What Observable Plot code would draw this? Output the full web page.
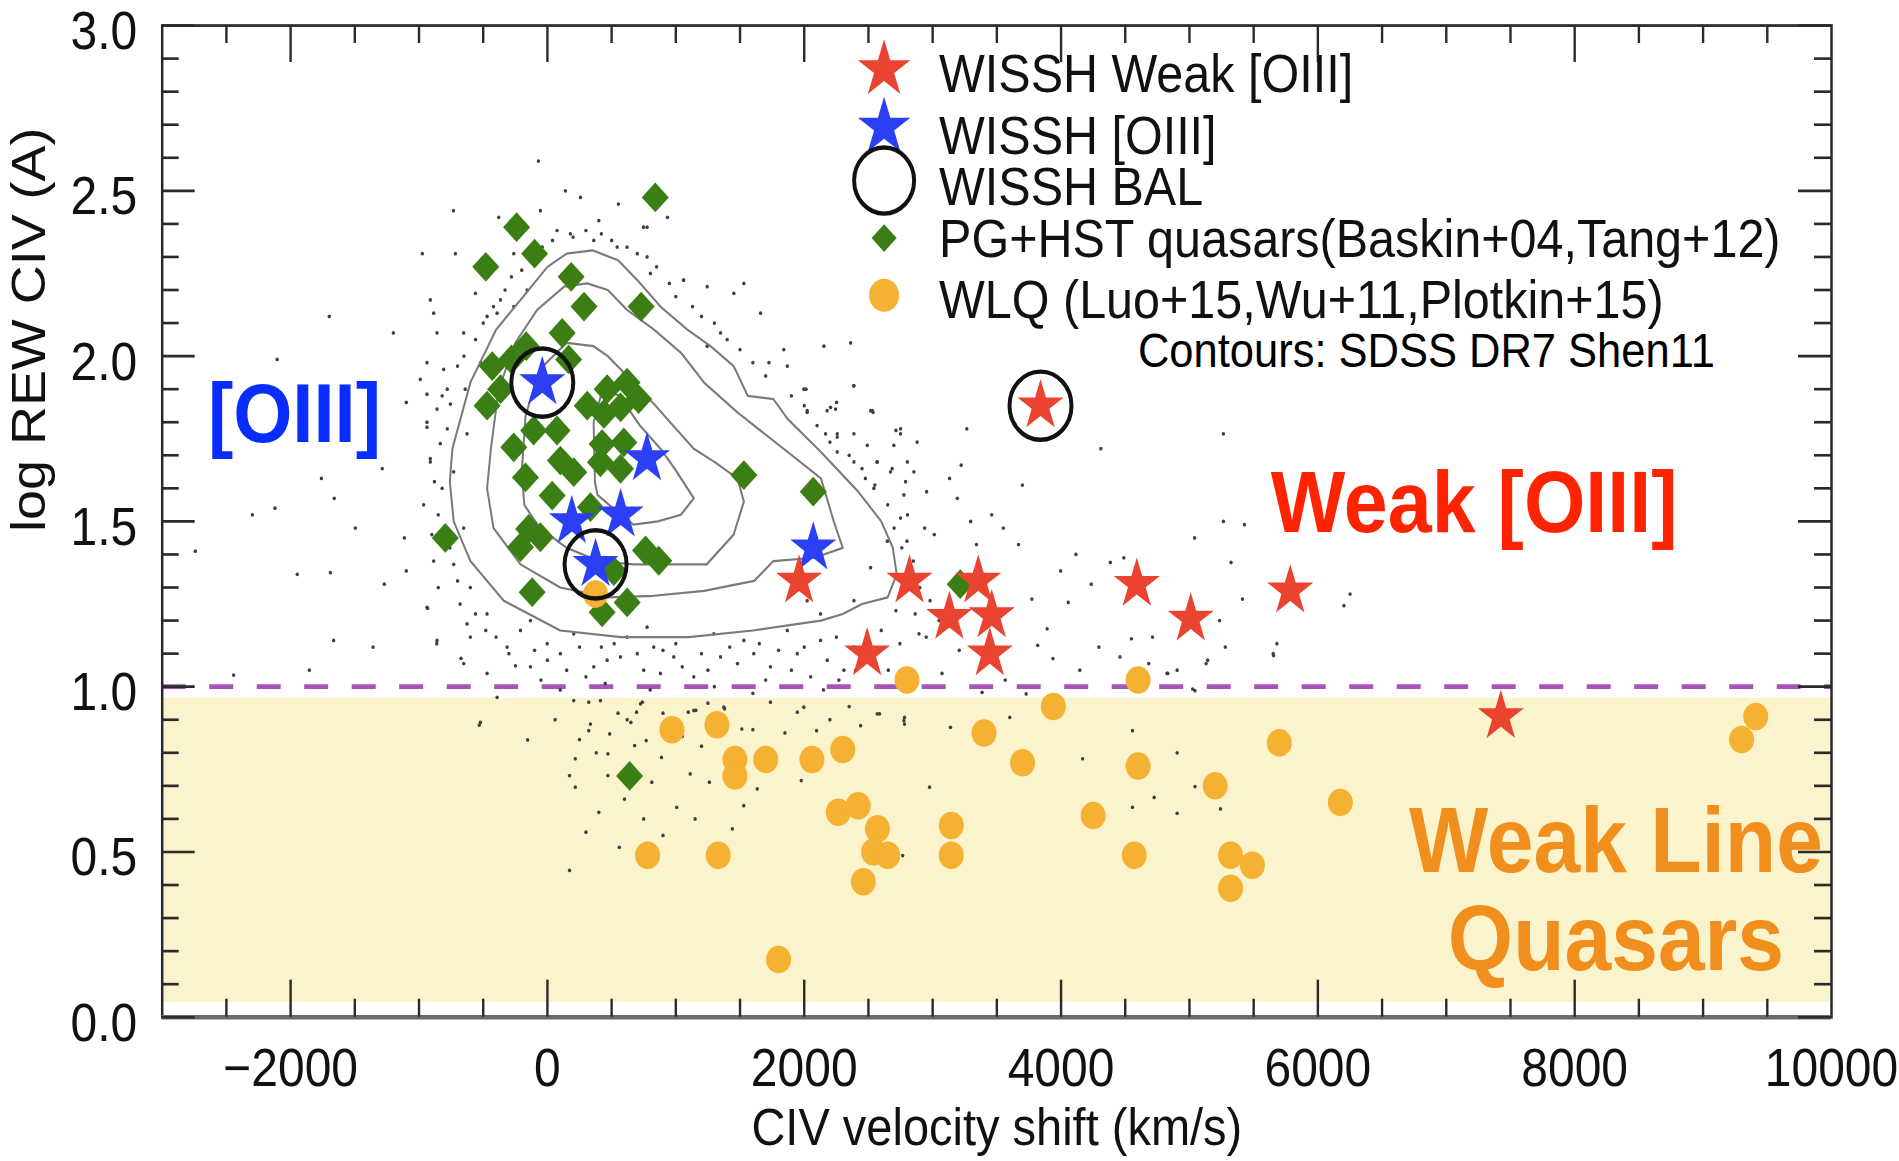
<!DOCTYPE html>
<html><head><meta charset="utf-8">
<script src="https://cdn.jsdelivr.net/npm/d3@7"></script>
<script src="https://cdn.jsdelivr.net/npm/@observablehq/plot@0.6"></script>
<style>
html,body{margin:0;padding:0;background:#fff;overflow:hidden;}
#chart{width:1899px;height:1161px;}
</style></head><body><div id="chart"></div>
<script>
// ---------------- DATA ----------------
// WISSH quasars with weak [OIII]  [CIV shift km/s, log REW CIV]
const wisshWeak = [[1960,1.32],[2490,1.10],[2820,1.32],[3355,1.32],[3130,1.21],[3460,1.215],[3445,1.10],[3840,1.85],[4590,1.31],[5010,1.205],[5785,1.29],[7425,0.91]];
// WISSH quasars with [OIII]
const wisshOIII = [[-40,1.92],[775,1.69],[190,1.50],[570,1.52],[375,1.37],[2070,1.42]];
// WISSH BAL quasars
const wisshBAL = [[-40,1.92],[375,1.37],[3840,1.85]];
// PG + HST quasars (Baskin+04, Tang+12)
const pgHst = [[840,2.48],[-240,2.39],[-100,2.31],[-480,2.27],[185,2.24],[285,2.15],[730,2.15],[115,2.07],[-165,2.03],[-280,1.99],[-430,1.97],[165,1.99],[-470,1.85],[-365,1.90],[310,1.85],[465,1.90],[620,1.92],[710,1.87],[570,1.845],[440,1.825],[1530,1.64],[-107,1.775],[75,1.775],[-262,1.724],[426,1.734],[595,1.739],[101,1.684],[205,1.649],[413,1.679],[569,1.659],[-171,1.633],[37,1.578],[335,1.543],[2070,1.59],[-795,1.45],[-146,1.477],[-55,1.452],[-210,1.422],[764,1.412],[867,1.381],[-119,1.286],[426,1.225],[621,1.255],[517,1.35],[3215,1.31],[640,0.73]];
// Weak line quasars (Luo+15, Wu+11, Plotkin+15)
const wlq = [[375,1.28],[2800,1.02],[970,0.87],[1320,0.885],[1460,0.78],[1460,0.73],[1700,0.78],[2060,0.78],[2300,0.81],[3400,0.86],[3940,0.94],[3700,0.77],[4600,0.76],[4600,1.02],[2265,0.62],[2420,0.64],[2570,0.57],[2540,0.50],[2650,0.49],[2460,0.41],[3145,0.58],[3145,0.49],[780,0.49],[1330,0.49],[1800,0.175],[4250,0.61],[4570,0.49],[5700,0.83],[5200,0.70],[6175,0.65],[5320,0.49],[5490,0.46],[5320,0.39],[9410,0.91],[9300,0.84]];
// SDSS DR7 (Shen+11) individual quasars outside the contours
const sdssDots = [
[-2105,1.99],[-1699,2.12],[-2298,1.52],[-2122,1.54],[-2742,1.41],[-1948,1.34],[-1690,1.345],[-1760,1.63],[-1660,1.57],[-1496,1.48],[-1286,1.66],[-1200,2.07],[-1099,1.86],[-990,1.93],[-732,2.44],[-974,2.31],[-717,2.31],[-70,2.59],[140,2.50],[257,2.48],[-55,2.44],[553,2.46],[748,2.39],[935,2.42],[1060,2.23],[-1114,1.45],[-1099,1.35],[-1270,1.31],
[-379,2.42],[400,2.41],[-262,2.31],[75,2.38],[179,2.37],[776,2.39],[543,2.33],[361,2.35],[776,2.30],[802,2.25],[1062,2.23],[1244,2.21],[1530,2.22],[1452,2.19],[1660,2.13],[-912,2.17],[-886,2.13],[-561,2.19],[-366,2.17],[-392,2.13],[-860,2.07],[-652,2.07],[1244,2.03],[1348,2.07],[1841,2.02],[2153,2.03],[2361,2.04],[2387,1.91],[1997,1.90],[1868,1.97],[1725,1.98],[2023,1.83],[2244,1.84],[2530,1.835],[2166,1.765],[2257,1.765],[2387,1.765],[2257,1.71],[2491,1.73],[2698,1.73],[2750,1.78],[2854,1.65],[2672,1.65],[2569,1.68],[-938,1.98],[-808,1.96],[-938,1.885],[-756,1.855],[-938,1.785],[-834,1.735],[-912,1.69],[-730,1.65],[-626,1.765],[-470,2.12],[-158,2.20],[-262,2.15],
[-938,1.80],[-912,1.68],[-964,1.55],[-886,1.38],[-730,1.37],[-652,1.48],[-600,1.30],[-470,1.22],[-600,1.15],[-860,1.14],[-938,1.24],[-314,1.12],[-132,1.06],[-652,1.07],[-470,1.04],[-210,1.17],[-132,1.20],[-2,1.13],[205,1.16],[101,1.10],[361,1.06],[465,1.08],[569,1.09],[621,1.15],[776,1.18],[828,1.12],[984,1.09],[1140,1.03],[880,1.04],[1296,1.16],[1348,1.09],[1530,1.14],[1607,1.10],[1737,1.06],[1868,1.17],[1946,1.10],[2127,1.14],[2179,1.08],[2309,1.05],[2387,1.12],[2127,1.22],[2023,1.26],[2387,1.26],[2517,1.36],[2647,1.44],[2750,1.51],[2542,1.60],[2387,1.68],[2257,1.755],[2750,1.765],[2803,1.68],[2776,1.58],[2517,1.835],[2023,1.835],[2205,1.845],
[205,0.958],[413,0.958],[621,0.90],[335,0.887],[725,0.948],[1140,0.928],[1374,0.938],[1997,0.938],[2569,0.918],[2776,0.897],[-522,0.892],[-392,0.968],
[322,0.953],[739,0.953],[322,0.867],[485,0.857],[650,0.892],[694,0.923],[679,0.822],[769,0.837],[888,0.786],[471,0.797],[217,0.782],[217,0.696],[172,0.731],[471,0.731],[813,0.711],[1007,0.635],[1112,0.736],[1261,0.711],[1440,0.570],[1529,0.64],[1634,0.691],[1977,0.716],[560,0.514],[172,0.444],[1097,0.923],[1156,0.928],[1380,0.933],[1514,0.872],[1737,0.953],[1946,0.923],[2096,0.867],[2439,0.882],[2587,0.918],[2781,0.907],[2781,0.887],[3139,0.877],[3601,0.907],[4168,0.782],[4556,0.867],[4556,0.635],[2976,0.696],[2767,0.489],
[2014,1.90],[2386,1.91],[2178,1.835],[2536,1.83],[2252,1.86],[3266,1.78],[4310,1.72],[5264,1.765],[3699,1.61],[2879,1.74],[2714,1.775],[2566,1.68],[2685,1.66],[2476,1.63],[2789,1.62],[2953,1.59],[3132,1.63],[3222,1.67],[3192,1.57],[3296,1.50],[3460,1.52],[3550,1.48],[2938,1.48],[2804,1.52],[2760,1.42],[3013,1.46],[3341,1.43],[3669,1.43],[4116,1.40],[4384,1.376],[4489,1.39],[3997,1.35],[4235,1.31],[3773,1.265],[4056,1.255],[5040,1.45],[5264,1.50],[5428,1.49],[5324,1.376],[5413,1.265],[6203,1.245],[5652,1.10],[5681,1.13],[5279,1.12],[5130,1.07],[5234,1.20],[4831,1.04],[4683,1.07],[4459,1.09],[4548,1.145],[4712,1.15],[4295,1.12],[4146,1.05],[3937,1.085],[3818,1.125],[3892,1.175],[3565,1.02],[3728,0.978],[3385,0.983],[3207,1.11],[3073,1.04],[2894,1.16],[2864,1.22],[2714,1.23],[2745,1.13],[2655,1.05],[5025,0.993],
[4904,0.80],[5043,0.698],[4725,0.665],[4904,0.617],[5241,0.63],[4825,1.04],[4904,1.05],[5043,0.988],[5142,1.08],[6251,1.28],[5655,1.094],
[-531,0.884],[-154,0.839],[-673,1.086],[-249,1.063],[-862,1.13],[-1665,1.14],[-1358,1.12],[-1854,1.05],[-2444,1.035],[-933,1.237],[-626,1.19],
[-820,1.60],[-850,1.52],[-800,1.45],[-780,1.78],[-820,1.88],[-700,1.97],[-650,2.00],[-560,2.05],[-500,2.10],[-420,2.15],[-330,2.20],[-280,2.24],[-200,2.26],[-120,2.30],[-40,2.33],[40,2.35],[-880,1.62],[-760,1.42],[-700,1.32],[-680,1.25],[-560,1.22],[-480,1.17],[-400,1.15],[-300,1.10],[-780,1.90],[-860,1.84],[-640,1.90],[-520,1.98],[-900,1.46],[-850,1.30],
[200,2.36],[300,2.38],[420,2.37],[500,2.35],[620,2.33],[700,2.31],[850,2.27],[950,2.22],[1000,2.18],[1130,2.15],[1200,2.12],[1300,2.10],[1400,2.05],[1500,2.02],[1600,1.98],[1700,1.94],[1900,1.88],[2000,1.85],[2100,1.79],[2200,1.74],[2350,1.70],[2450,1.66],[2550,1.61],[2650,1.55],[2700,1.48],[2800,1.44],[2850,1.38],[2900,1.30],[2980,1.26],[3050,1.20],[2950,1.15],[2600,1.17],[2500,1.12],
[-100,1.11],[0,1.08],[150,1.05],[250,1.12],[300,1.03],[420,1.12],[520,1.13],[700,1.10],[750,1.05],[900,1.11],[1000,1.13],[1050,1.06],[1200,1.10],[1250,1.05],[1420,1.12],[1480,1.07],[1650,1.13],[1700,1.02],[1800,1.11],[1900,1.05],[2000,1.12],[2050,1.03],[2250,1.15],[2270,1.02],[2400,1.05],[-50,1.02],[100,0.99],[450,1.01],[800,0.99],[1300,1.00],[1600,0.98],[2150,0.99],
[60,0.90],[250,0.84],[380,0.80],[550,0.92],[600,0.66],[750,0.60],[900,0.92],[1050,0.85],[1200,0.82],[1250,0.95],[1600,0.87],[1850,0.86],[2200,0.90],[2350,0.94],[900,0.55],[1150,0.60],[400,0.62],[300,0.56]
];
// SDSS DR7 density contours (outer to inner)
const contour1 = [[-740,1.72],[-600,1.92],[-400,2.08],[-210,2.17],[0,2.27],[150,2.31],[350,2.32],[550,2.29],[700,2.23],[880,2.15],[1090,2.08],[1270,2.03],[1450,1.97],[1560,1.88],[1760,1.87],[1870,1.81],[2130,1.71],[2420,1.59],[2600,1.50],[2690,1.42],[2720,1.34],[2650,1.27],[2450,1.25],[2300,1.22],[2130,1.20],[1600,1.17],[1100,1.15],[570,1.15],[100,1.17],[-340,1.26],[-600,1.38],[-730,1.50],[-760,1.62]];
const contour2 = [[-440,1.72],[-380,1.90],[-250,2.04],[-80,2.14],[130,2.21],[310,2.22],[470,2.20],[620,2.14],[830,2.08],[1040,2.01],[1220,1.92],[1480,1.83],[1870,1.71],[2130,1.63],[2230,1.50],[2300,1.42],[2080,1.39],[1760,1.38],[1610,1.32],[1220,1.29],[830,1.275],[470,1.27],[100,1.30],[-210,1.37],[-420,1.48],[-470,1.60]];
const contour3 = [[-200,1.65],[-170,1.82],[-60,1.96],[150,2.04],[360,2.03],[470,2.00],[670,1.92],[830,1.855],[990,1.785],[1140,1.72],[1300,1.68],[1480,1.63],[1530,1.56],[1450,1.46],[1240,1.37],[900,1.37],[670,1.37],[400,1.38],[150,1.42],[-60,1.48],[-180,1.55]];
const contour4 = [[370,1.62],[360,1.80],[430,1.90],[560,1.88],[720,1.79],[880,1.72],[990,1.66],[1140,1.57],[1040,1.52],[860,1.50],[670,1.49],[540,1.53],[390,1.58]];
// Weak-line-quasar region (log REW CIV < 1)
const wlqBand = [{x1: -3000, x2: 10000, y1: 0.045, y2: 0.965}];
const rewThreshold = [1.0];
// Axis ticks
const xTickValues = [-2000, 0, 2000, 4000, 6000, 8000, 10000];
const xTickLabels = ["\u22122000", "0", "2000", "4000", "6000", "8000", "10000"];
const yTickValues = [0, 0.5, 1.0, 1.5, 2.0, 2.5, 3.0];
const yTickLabels = ["0.0", "0.5", "1.0", "1.5", "2.0", "2.5", "3.0"];
const legendLabels = ["WISSH Weak [OIII]", "WISSH [OIII]", "WISSH BAL", "PG+HST quasars(Baskin+04,Tang+12)", "WLQ (Luo+15,Wu+11,Plotkin+15)"];

// ---------------- LAYOUT ----------------
const W = 1899, FINAL_H = 1161, H = 1055;
const S = FINAL_H / H;             // vertical stretch of the original figure
const X0 = -3000, X1 = 10000, Y0 = 0, Y1 = 3;
const xPerPx = (X1 - X0) / (1831 - 161.7);
const yPerPx = (Y1 - Y0) / (1016.7 - 25);
const xMinor = d3.range(-2500, 10000, 500).filter(v => v % 2000 !== 0);
const yMinor = d3.range(1, 30).map(i => i / 10).filter(v => Math.abs(v * 2 - Math.round(v * 2)) > 1e-6);
const yMajorIn = 33 * xPerPx, yMinorIn = 17 * xPerPx;
const xMajorIn = 37 * yPerPx, xMinorIn = 18 * yPerPx;

const diamond = {draw(ctx, size) { const r = Math.sqrt(size) * 0.62625; ctx.moveTo(0, -r); ctx.lineTo(r, 0); ctx.lineTo(0, r); ctx.lineTo(-r, 0); ctx.closePath(); }};

const contourRows = [contour1, contour2, contour3, contour4].flatMap((c, k) => c.map(p => ({v: p[0], y: p[1], level: k})));
const px = d => d[0], py = d => d[1];

const legendSymX = 2622, legendTextX = 3050;
const legendRowY = [2.850, 2.664, 2.508, 2.352, 2.167];
const tickStyle = {stroke: "#2a2a2a", strokeWidth: 2.4};

const chart = Plot.plot({
  width: W, height: H,
  marginTop: 25 / S, marginBottom: (FINAL_H - 1016.7) / S, marginLeft: 161.7, marginRight: W - 1831,
  x: {domain: [X0, X1], axis: null},
  y: {domain: [Y0, Y1], axis: null},
  style: {fontFamily: "'Liberation Sans', Arial, Helvetica, sans-serif", background: "#fff", color: "#111"},
  marks: [
    Plot.rect(wlqBand, {x1: "x1", x2: "x2", y1: "y1", y2: "y2", fill: "#fbf3cc"}),
    Plot.ruleY(rewThreshold, {stroke: "#a853b8", strokeWidth: 4.2, strokeDasharray: "24,23.5"}),
    Plot.dot(sdssDots, {x: px, y: py, r: 1.7, fill: "#3f3f3f"}),
    Plot.line(contourRows, {x: "v", y: "y", z: "level", curve: "linear-closed", stroke: "#7a7a7a", strokeWidth: 2}),
    Plot.dot(pgHst, {x: px, y: py, symbol: diamond, r: 12.2, fill: "#3b7f14"}),
    Plot.dot(wlq, {x: px, y: py, r: 12.5, fill: "#f5b132"}),
    Plot.dot(wisshOIII, {x: px, y: py, symbol: "star", r: 14.5, fill: "#2b3ff5"}),
    Plot.dot(wisshWeak, {x: px, y: py, symbol: "star", r: 14.5, fill: "#ea4330"}),
    Plot.dot(wisshBAL, {x: px, y: py, r: 31, fill: "none", stroke: "#111", strokeWidth: 4}),
    // frame & ticks
    Plot.frame({stroke: "#2a2a2a", strokeWidth: 2.5}),
    Plot.ruleY([Y0], {stroke: "#6a6a6a", strokeWidth: 4}),
    Plot.ruleX(xTickValues.slice(0, -1), {x: d => d, y1: Y0, y2: Y0 + xMajorIn, ...tickStyle}),
    Plot.ruleX(xMinor, {x: d => d, y1: Y0, y2: Y0 + xMinorIn, ...tickStyle}),
    Plot.ruleX(xTickValues.slice(0, -1), {x: d => d, y1: Y1, y2: Y1 - xMajorIn, ...tickStyle}),
    Plot.ruleX(xMinor, {x: d => d, y1: Y1, y2: Y1 - xMinorIn, ...tickStyle}),
    Plot.ruleY(yTickValues, {y: d => d, x1: X0, x2: X0 + yMajorIn, ...tickStyle}),
    Plot.ruleY(yMinor, {y: d => d, x1: X0, x2: X0 + yMinorIn, ...tickStyle}),
    Plot.ruleY(yTickValues, {y: d => d, x1: X1, x2: X1 - yMajorIn, ...tickStyle}),
    Plot.ruleY(yMinor, {y: d => d, x1: X1, x2: X1 - yMinorIn, ...tickStyle}),
    // tick labels
    Plot.text(xTickValues, {x: d => d, text: (d, i) => xTickLabels[i], frameAnchor: "bottom", dy: 47.5, lineAnchor: "middle", fontSize: 48, fill: "#111"}),
    Plot.text(yTickValues, {y: d => d, text: (d, i) => yTickLabels[i], frameAnchor: "left", dx: -25, dy: 6, textAnchor: "end", lineAnchor: "middle", fontSize: 48, fill: "#111"}),
    // axis titles
    Plot.text(["CIV velocity shift (km/s)"], {frameAnchor: "bottom", dy: 101, lineAnchor: "middle", fontSize: 47, fill: "#111"}),
    Plot.text(["log REW CIV (A)"], {frameAnchor: "left", dx: -133, dy: 9.6, rotate: -90, lineAnchor: "middle", fontSize: 49, fill: "#111"}),
    // annotations
    Plot.text(["[OIII]"], {x: -2644, y: 1.822, textAnchor: "start", lineAnchor: "middle", fontSize: 76, fontWeight: "bold", fill: "#0a2dff"}),
    Plot.text(["Weak [OIII]"], {x: 5633, y: 1.551, textAnchor: "start", lineAnchor: "middle", fontSize: 79, fontWeight: "bold", fill: "#ff2400"}),
    Plot.text(["Weak Line"], {x: 8321, y: 0.529, textAnchor: "middle", lineAnchor: "middle", fontSize: 84, fontWeight: "bold", fill: "#f08e1e"}),
    Plot.text(["Quasars"], {x: 8321, y: 0.232, textAnchor: "middle", lineAnchor: "middle", fontSize: 84, fontWeight: "bold", fill: "#f08e1e"}),
    Plot.text(["Contours: SDSS DR7 Shen11"], {x: 4599, y: 2.012, textAnchor: "start", lineAnchor: "middle", fontSize: 43.5, fill: "#000"}),
    // legend
    Plot.dot([0], {x: legendSymX, y: 2.867, symbol: "star", r: 16.5, fill: "#ea4330"}),
    Plot.dot([0], {x: legendSymX, y: 2.693, symbol: "star", r: 16.5, fill: "#2b3ff5"}),
    Plot.dot([0], {x: legendSymX, y: 2.531, r: 30, fill: "none", stroke: "#111", strokeWidth: 4}),
    Plot.dot([0], {x: legendSymX, y: 2.357, symbol: diamond, r: 11.3, fill: "#3b7f14"}),
    Plot.dot([0], {x: legendSymX, y: 2.184, r: 15, fill: "#f5b132"}),
    Plot.text(legendLabels, {x: legendTextX, y: (d, i) => legendRowY[i], textAnchor: "start", lineAnchor: "middle", fontSize: 48.5, fill: "#111"})
  ]
});

// stretch vertically like the original figure
chart.setAttribute("viewBox", `0 0 ${W} ${H}`);
chart.setAttribute("width", W);
chart.setAttribute("height", FINAL_H);
chart.setAttribute("preserveAspectRatio", "none");
chart.style.width = W + "px";
chart.style.height = FINAL_H + "px";
chart.style.maxWidth = "none";
document.getElementById("chart").appendChild(chart);
</script>
</body></html>
